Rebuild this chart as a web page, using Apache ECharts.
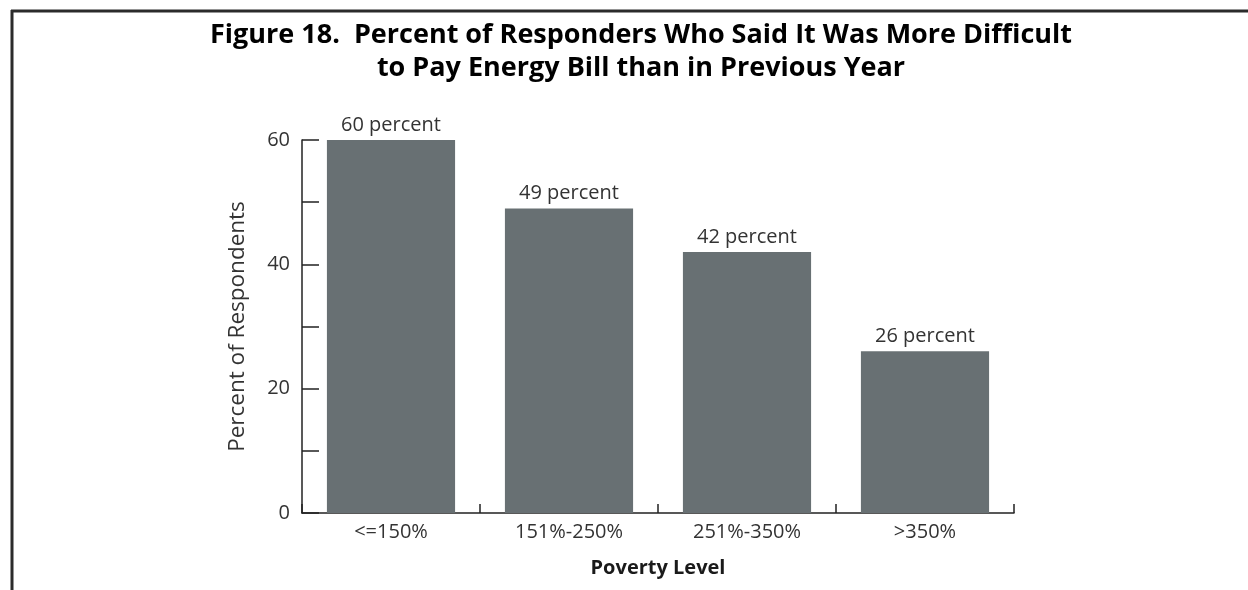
<!DOCTYPE html>
<html>
<head>
<meta charset="utf-8">
<script src="https://cdn.jsdelivr.net/npm/echarts@6/dist/echarts.min.js"></script>
<style>
  html, body { margin: 0; padding: 0; background: #fff; }
  #chart { width: 1248px; height: 590px; }
</style>
</head>
<body>
<div id="chart"></div>
<script>
// Poverty-level groups and share of respondents finding the energy bill harder to pay
const categories = ['<=150%', '151%-250%', '251%-350%', '>350%'];
const percentValues = [60, 49, 42, 26];
const yTickLabels = ['0', '', '20', '', '40', '', '60'];

const titleLines = [
  'Figure 18.  Percent of Responders Who Said It Was More Difficult',
  'to Pay Energy Bill than in Previous Year'
];

const FONT = '"Open Sans", Lato, sans-serif';
const INK = '#1a1a1a';

const chart = echarts.init(document.getElementById('chart'), null, { renderer: 'canvas' });

chart.setOption({
  backgroundColor: '#ffffff',
  animation: false,
  title: {
    text: titleLines.join('\n'),
    left: 636,
    top: 14,
    textAlign: 'center',
    textStyle: {
      fontFamily: FONT,
      fontWeight: 'bold',
      fontSize: 27,
      lineHeight: 33,
      color: '#000'
    }
  },
  graphic: [
    // frame: left and top rules
    { type: 'line', shape: { x1: 12, y1: 10, x2: 12, y2: 590 }, style: { stroke: '#2b2b2b', lineWidth: 3 } },
    { type: 'line', shape: { x1: 11, y1: 11, x2: 1248, y2: 11 }, style: { stroke: '#2b2b2b', lineWidth: 3 } }
  ],
  grid: {
    left: 302,
    top: 140,
    width: 712,
    height: 373,
    containLabel: false
  },
  xAxis: {
    type: 'category',
    data: categories,
    boundaryGap: true,
    name: 'Poverty Level',
    nameLocation: 'middle',
    nameGap: 45,
    nameTextStyle: { fontFamily: FONT, fontWeight: 'bold', fontSize: 20, color: INK },
    axisLine: { show: true, lineStyle: { color: '#222', width: 1.5 } },
    axisTick: { show: true, inside: true, length: 9, alignWithLabel: false, lineStyle: { color: '#222', width: 1.5 } },
    axisLabel: { fontFamily: FONT, fontSize: 20, color: '#333', margin: 9 },
    splitLine: { show: false }
  },
  yAxis: {
    type: 'value',
    min: 0,
    max: 60,
    interval: 10,
    name: 'Percent of Respondents',
    nameLocation: 'middle',
    nameGap: 53,
    nameRotate: 90,
    nameTextStyle: { fontFamily: FONT, fontSize: 22.5, color: '#333' },
    axisLine: { show: true, lineStyle: { color: '#222', width: 1.5 } },
    axisTick: { show: true, inside: true, length: 17, lineStyle: { color: '#222', width: 1.5 } },
    axisLabel: {
      fontFamily: FONT,
      fontSize: 20,
      color: '#333',
      margin: 12,
      formatter: function (v) { return yTickLabels[Math.round(v / 10)]; }
    },
    splitLine: { show: false }
  },
  series: [{
    type: 'bar',
    data: percentValues,
    barCategoryGap: '28%',
    itemStyle: { color: '#687073' },
    label: {
      show: true,
      position: 'top',
      distance: 5,
      fontFamily: FONT,
      fontSize: 20,
      color: '#333',
      formatter: function (p) { return p.value + ' percent'; }
    }
  }]
});
</script>
</body>
</html>
